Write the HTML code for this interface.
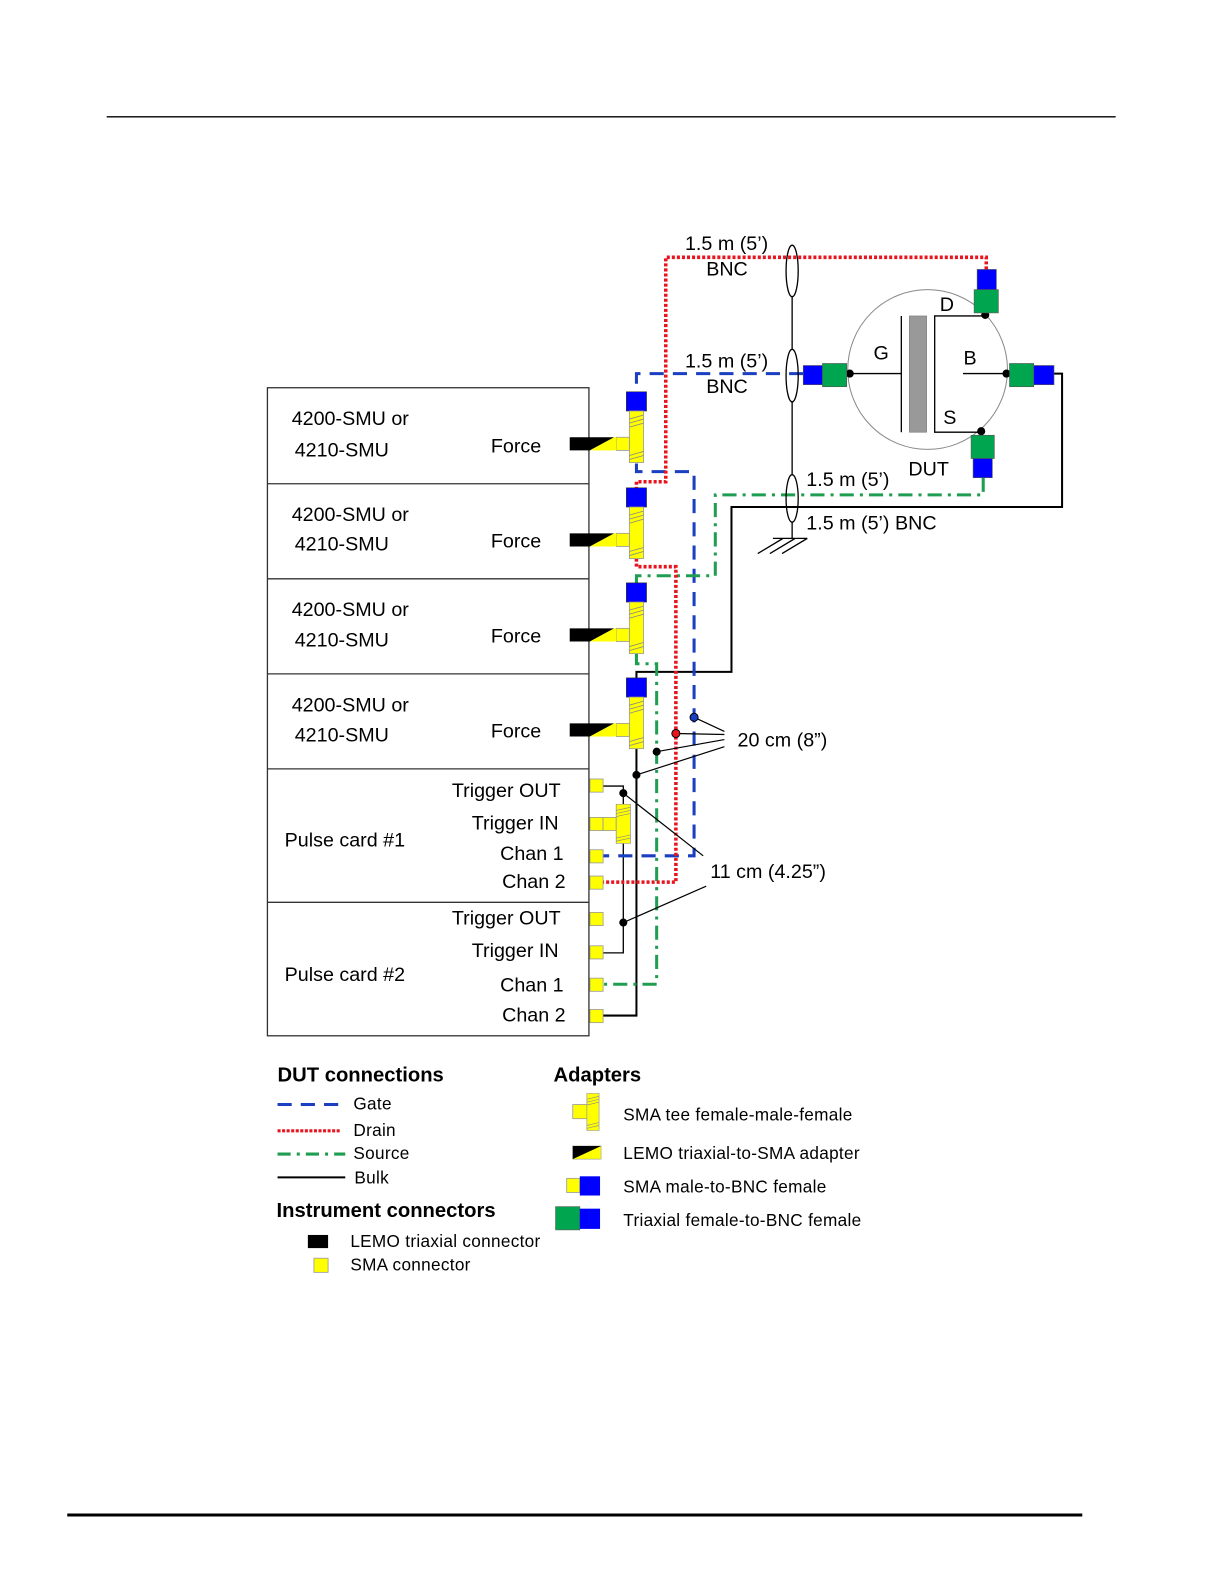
<!DOCTYPE html>
<html><head><meta charset="utf-8">
<style>
html,body{margin:0;padding:0;background:#fff;}
svg{display:block;font-family:"Liberation Sans",Arial,sans-serif;}
</style></head>
<body>
<svg width="1224" height="1584" viewBox="0 0 1224 1584" xmlns="http://www.w3.org/2000/svg">
<defs>
<g id="tee">
  <rect x="-7" y="0" width="14" height="51" fill="#ffff00" stroke="#999" stroke-width="0.8"/>
  <path d="M-7 8 L7 4 M-7 12 L7 8 M-7 16 L7 12 M-7 44 L7 40 M-7 48 L7 44" stroke="#888" stroke-width="0.8"/>
</g>
<g id="smuconn">
  <rect x="621" y="4" width="20" height="19" fill="#0000ff" stroke="#333" stroke-width="0.6"/>
  <use href="#tee" x="631" y="23"/>
  <rect x="611" y="49" width="13" height="13" fill="#ffff00" stroke="#999" stroke-width="0.8"/>
  <polygon points="565,49 609,49 585,62 565,62" fill="#000"/>
  <polygon points="609,49 611,49 611,62 585,62" fill="#ffff00"/>
</g>
</defs>

<g transform="translate(-1.5,-1.5) scale(1.011)">
<line x1="107" y1="117" x2="1105" y2="117" stroke="#000" stroke-width="1.3"/>
<line x1="68" y1="1500" x2="1072" y2="1500" stroke="#000" stroke-width="3"/>

<g fill="none" stroke="#333" stroke-width="1.3">
<rect x="266" y="385" width="318" height="641"/>
<line x1="266" y1="480" x2="584" y2="480"/>
<line x1="266" y1="574" x2="584" y2="574"/>
<line x1="266" y1="668" x2="584" y2="668"/>
<line x1="266" y1="762" x2="584" y2="762"/>
<line x1="266" y1="894" x2="584" y2="894"/>
</g>

<g font-size="19.5" fill="#000">
<text x="290" y="422">4200-SMU or</text><text x="293" y="453">4210-SMU</text><text x="487" y="449">Force</text>
<text x="290" y="517">4200-SMU or</text><text x="293" y="546">4210-SMU</text><text x="487" y="543">Force</text>
<text x="290" y="611">4200-SMU or</text><text x="293" y="641">4210-SMU</text><text x="487" y="637">Force</text>
<text x="290" y="705">4200-SMU or</text><text x="293" y="735">4210-SMU</text><text x="487" y="731">Force</text>
<text x="283" y="839">Pulse card #1</text>
<text x="556" y="790" text-anchor="end">Trigger OUT</text>
<text x="554" y="822" text-anchor="end">Trigger IN</text>
<text x="559" y="852" text-anchor="end">Chan 1</text>
<text x="561" y="880" text-anchor="end">Chan 2</text>
<text x="283" y="972">Pulse card #2</text>
<text x="556" y="916" text-anchor="end">Trigger OUT</text>
<text x="554" y="948" text-anchor="end">Trigger IN</text>
<text x="559" y="982" text-anchor="end">Chan 1</text>
<text x="561" y="1012" text-anchor="end">Chan 2</text>
</g>

<g fill="none">
 <polyline points="1044,371 1052,371 1052,503 725,503 725,666 631,666 631,672" stroke="#000" stroke-width="2"/>
 <polyline points="631,741 631,1006 598,1006" stroke="#000" stroke-width="2"/>
 <polyline points="598,779 618,779 618,944 598,944" stroke="#000" stroke-width="1.3"/>
 <polyline points="796,371 631,371 631,389" stroke="#1a3fc0" stroke-width="3" stroke-dasharray="14 9"/>
 <polyline points="631,460 631,468 688,468 688,848 598,848" stroke="#1a3fc0" stroke-width="3" stroke-dasharray="14 9"/>
 <polyline points="974,474 974,491 709,491 709,571 631,571 631,578" stroke="#1f9d50" stroke-width="3" stroke-dasharray="14 6 3 6"/>
 <polyline points="631,647 631,658 651,658 651,975 598,975" stroke="#1f9d50" stroke-width="3" stroke-dasharray="14 6 3 6"/>
 <polyline points="977,268 977,256 660,256 660,478 631,478 631,484" stroke="#e8141e" stroke-width="3.5" stroke-dasharray="3 2"/>
 <polyline points="631,554 631,562 670,562 670,874 598,874" stroke="#e8141e" stroke-width="3.5" stroke-dasharray="3 2"/>
</g>

<use href="#smuconn" y="385"/>
<use href="#smuconn" y="480"/>
<use href="#smuconn" y="574"/>
<use href="#smuconn" y="668"/>

<g fill="#ffff00" stroke="#999" stroke-width="0.8">
<rect x="585" y="772" width="13" height="13"/>
<rect x="585" y="810" width="13" height="13"/>
<rect x="598" y="810" width="13" height="13"/>
<rect x="585" y="842" width="13" height="13"/>
<rect x="585" y="868" width="13" height="13"/>
<rect x="585" y="904" width="13" height="13"/>
<rect x="585" y="937" width="13" height="13"/>
<rect x="585" y="969" width="13" height="13"/>
<rect x="585" y="1000" width="13" height="13"/>
</g>
<g transform="translate(618,797) scale(1,0.76)"><use href="#tee"/></g>

<g fill="none" stroke="#000" stroke-width="1.3">
<line x1="785" y1="295" x2="785" y2="347"/>
<line x1="785" y1="399" x2="785" y2="471"/>
<line x1="785" y1="518" x2="785" y2="534"/>
<ellipse cx="785" cy="269.5" rx="6" ry="25.5"/>
<ellipse cx="785" cy="373" rx="6" ry="26"/>
<ellipse cx="785" cy="494.5" rx="6" ry="23.5"/>
<line x1="766" y1="534" x2="800" y2="534"/>
<line x1="776" y1="534" x2="751" y2="549"/>
<line x1="788" y1="534" x2="763" y2="549"/>
<line x1="800" y1="534" x2="775" y2="549"/>
</g>

<circle cx="919" cy="367" r="79" fill="none" stroke="#888" stroke-width="1"/>
<g stroke="#000" stroke-width="1.3" fill="none">
<line x1="842" y1="371" x2="893" y2="371"/>
<line x1="893" y1="314" x2="893" y2="429"/>
<polyline points="976,314 926,314 926,429 972,429"/>
<line x1="954" y1="371" x2="997" y2="371"/>
</g>
<rect x="901" y="314" width="17" height="115" fill="#999" stroke="#777" stroke-width="0.6"/>
<g fill="#000"><circle cx="842" cy="371" r="4"/><circle cx="976" cy="313" r="4"/><circle cx="997" cy="371" r="4"/><circle cx="972" cy="428" r="4"/></g>
<g stroke="#555" stroke-width="0.6">
<rect x="968" y="268" width="19" height="20" fill="#0000ff"/>
<rect x="965" y="288" width="24" height="23" fill="#00a550"/>
<rect x="796" y="363" width="19" height="19" fill="#0000ff"/>
<rect x="815" y="361" width="24" height="23" fill="#00a550"/>
<rect x="1000" y="361" width="24" height="23" fill="#00a550"/>
<rect x="1024" y="363" width="20" height="19" fill="#0000ff"/>
<rect x="962" y="432" width="23" height="23" fill="#00a550"/>
<rect x="964" y="455" width="19" height="19" fill="#0000ff"/>
</g>
<g font-size="19.5">
<text x="873" y="357" text-anchor="middle">G</text>
<text x="938" y="309" text-anchor="middle">D</text>
<text x="961" y="362" text-anchor="middle">B</text>
<text x="941" y="421" text-anchor="middle">S</text>
<text x="920" y="472" text-anchor="middle">DUT</text>
<text x="679" y="249">1.5 m (5’)</text>
<text x="700" y="274">BNC</text>
<text x="679" y="365">1.5 m (5’)</text>
<text x="700" y="390">BNC</text>
<text x="799" y="482">1.5 m (5’)</text>
<text x="799" y="525">1.5 m (5’) BNC</text>
<text x="731" y="740">20 cm (8”)</text>
<text x="704" y="870">11 cm (4.25”)</text>
</g>

<g stroke="#000" stroke-width="1.2">
<line x1="688" y1="711" x2="718" y2="725"/>
<line x1="670" y1="727" x2="718" y2="728"/>
<line x1="651" y1="745" x2="718" y2="733"/>
<line x1="631" y1="768" x2="718" y2="740"/>
<line x1="618" y1="786" x2="697" y2="848"/>
<line x1="618" y1="914" x2="700" y2="878"/>
</g>
<g fill="#000"><circle cx="631" cy="768" r="4"/><circle cx="618" cy="786" r="4"/><circle cx="618" cy="914" r="4"/><circle cx="651" cy="745" r="4"/></g>
<circle cx="688" cy="711" r="4" fill="#1a3fc0" stroke="#000" stroke-width="1"/>
<circle cx="670" cy="727" r="4" fill="#e8141e" stroke="#000" stroke-width="1"/>

<g font-size="17" letter-spacing="0.3">
<text x="276" y="1071" font-weight="bold" font-size="20" letter-spacing="0">DUT connections</text>
<line x1="276" y1="1094" x2="343" y2="1094" stroke="#1a3fc0" stroke-width="3" stroke-dasharray="14 9"/>
<text x="351" y="1099">Gate</text>
<line x1="276" y1="1120" x2="339" y2="1120" stroke="#e8141e" stroke-width="3" stroke-dasharray="3 1.5"/>
<text x="351" y="1125">Drain</text>
<line x1="276" y1="1143" x2="343" y2="1143" stroke="#1f9d50" stroke-width="3" stroke-dasharray="13 6 3 6"/>
<text x="351" y="1148">Source</text>
<line x1="276" y1="1166" x2="343" y2="1166" stroke="#000" stroke-width="2"/>
<text x="352" y="1172">Bulk</text>
<text x="275" y="1205" font-weight="bold" font-size="20" letter-spacing="0">Instrument connectors</text>
<rect x="306" y="1223" width="20" height="13" fill="#000"/>
<text x="348" y="1235">LEMO triaxial connector</text>
<rect x="312" y="1246" width="14" height="14" fill="#ffff00" stroke="#999" stroke-width="0.8"/>
<text x="348" y="1258">SMA connector</text>

<text x="549" y="1071" font-weight="bold" font-size="20" letter-spacing="0">Adapters</text>
<rect x="568" y="1094" width="14" height="14" fill="#ffff00" stroke="#999" stroke-width="0.8"/>
<g transform="translate(588,1083) scale(0.86,0.72)"><use href="#tee"/></g>
<text x="618" y="1110">SMA tee female-male-female</text>
<rect x="568" y="1135" width="28" height="13" fill="#ffff00" stroke="#999" stroke-width="0.6"/>
<polygon points="568,1135 596,1135 568,1148" fill="#000"/>
<text x="618" y="1148">LEMO triaxial-to-SMA adapter</text>
<rect x="562" y="1167" width="13" height="14" fill="#ffff00" stroke="#999" stroke-width="0.8"/>
<rect x="575" y="1165" width="20" height="19" fill="#0000ff"/>
<text x="618" y="1181">SMA male-to-BNC female</text>
<rect x="551" y="1195" width="24" height="23" fill="#00a550" stroke="#555" stroke-width="0.6"/>
<rect x="575" y="1197" width="20" height="20" fill="#0000ff"/>
<text x="618" y="1214">Triaxial female-to-BNC female</text>
</g>
</g>
</svg>
</body></html>
